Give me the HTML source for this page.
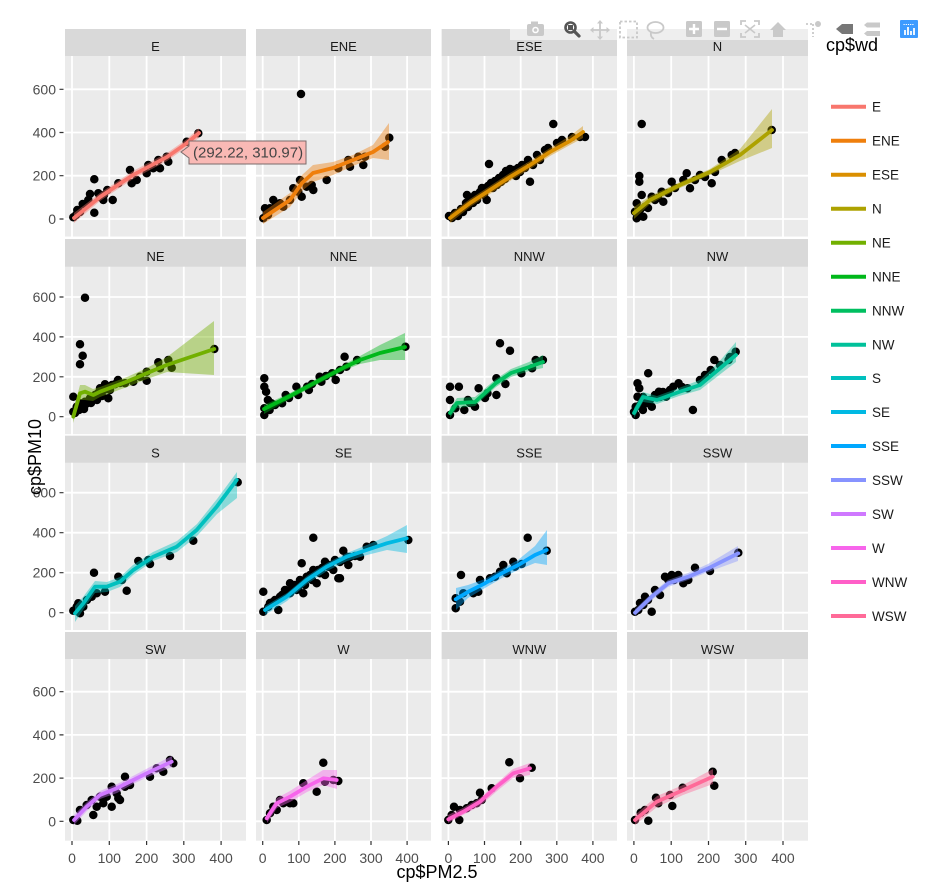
<!DOCTYPE html>
<html><head><meta charset="utf-8"><style>
html,body{margin:0;padding:0;background:#fff;}
svg{display:block;font-family:"Liberation Sans",Arial,sans-serif;}
.pt{stroke:#000;stroke-width:8.5;stroke-linecap:round;fill:none}
.ln{fill:none;stroke-width:3.8;stroke-linejoin:round;stroke-linecap:round}
.rb{opacity:0.42;stroke:none}
.st{font-size:13px;fill:#1A1A1A;text-anchor:middle}
.yt{font-size:14px;fill:#4D4D4D;text-anchor:end}
.xt{font-size:14px;fill:#4D4D4D;text-anchor:middle}
.lg{font-size:13.5px;fill:#1a1a1a}
.ic{fill:#c9c9c9}
</style></head><body>
<svg width="939" height="887" viewBox="0 0 939 887" xmlns="http://www.w3.org/2000/svg">
<rect width="939" height="887" fill="#fff"/>
<!-- panel backgrounds -->
<g fill="#EBEBEB">
<rect x="65" y="29" width="181" height="207.7"/><rect x="256" y="29" width="175" height="207.7"/><rect x="441.7" y="29" width="175.3" height="207.7"/><rect x="627" y="29" width="181" height="207.7"/>
<rect x="65" y="239" width="181" height="195.3"/><rect x="256" y="239" width="175" height="195.3"/><rect x="441.7" y="239" width="175.3" height="195.3"/><rect x="627" y="239" width="181" height="195.3"/>
<rect x="65" y="435.7" width="181" height="194.3"/><rect x="256" y="435.7" width="175" height="194.3"/><rect x="441.7" y="435.7" width="175.3" height="194.3"/><rect x="627" y="435.7" width="181" height="194.3"/>
<rect x="65" y="632" width="181" height="208.7"/><rect x="256" y="632" width="175" height="208.7"/><rect x="441.7" y="632" width="175.3" height="208.7"/><rect x="627" y="632" width="181" height="208.7"/>
</g>
<!-- grid -->
<g stroke="#fff" stroke-width="1.8">
<path d="M72 29V841M109.3 29V841M146.6 29V841M183.8 29V841M221.1 29V841M262.7 29V841M298.8 29V841M334.9 29V841M371 29V841M407.1 29V841M448.4 29V841M484.5 29V841M520.7 29V841M556.8 29V841M592.9 29V841M633.9 29V841M671.2 29V841M708.5 29V841M745.7 29V841M783 29V841"/>
<path d="M65 89.3H808M65 132.5H808M65 175.7H808M65 219H808M65 297H808M65 336.9H808M65 376.8H808M65 416.7H808M65 492.7H808M65 532.7H808M65 572.7H808M65 612.7H808M65 691.7H808M65 734.9H808M65 778.1H808M65 821.3H808"/>
</g>
<rect x="0" y="236.7" width="939" height="2.3" fill="#fff"/><rect x="0" y="434.3" width="939" height="1.4" fill="#fff"/><rect x="0" y="630" width="939" height="2" fill="#fff"/>
<!-- strips -->
<g fill="#D9D9D9">
<rect x="65" y="29" width="181" height="27"/><rect x="256" y="29" width="175" height="27"/><rect x="441.7" y="29" width="175.3" height="27"/><rect x="627" y="29" width="181" height="27"/>
<rect x="65" y="239" width="181" height="27.7"/><rect x="256" y="239" width="175" height="27.7"/><rect x="441.7" y="239" width="175.3" height="27.7"/><rect x="627" y="239" width="181" height="27.7"/>
<rect x="65" y="435.7" width="181" height="27"/><rect x="256" y="435.7" width="175" height="27"/><rect x="441.7" y="435.7" width="175.3" height="27"/><rect x="627" y="435.7" width="181" height="27"/>
<rect x="65" y="632" width="181" height="27"/><rect x="256" y="632" width="175" height="27"/><rect x="441.7" y="632" width="175.3" height="27"/><rect x="627" y="632" width="181" height="27"/>
</g>
<g class="st">
<text x="155.5" y="51">E</text><text x="343.5" y="51">ENE</text><text x="529.3" y="51">ESE</text><text x="717.5" y="51">N</text>
<text x="155.5" y="261">NE</text><text x="343.5" y="261">NNE</text><text x="529.3" y="261">NNW</text><text x="717.5" y="261">NW</text>
<text x="155.5" y="457.5">S</text><text x="343.5" y="457.5">SE</text><text x="529.3" y="457.5">SSE</text><text x="717.5" y="457.5">SSW</text>
<text x="155.5" y="654">SW</text><text x="343.5" y="654">W</text><text x="529.3" y="654">WNW</text><text x="717.5" y="654">WSW</text>
</g>
<!-- ticks -->
<g stroke="#333" stroke-width="1.2">
<path d="M59.5 89.3H63.5M59.5 132.5H63.5M59.5 175.7H63.5M59.5 219H63.5M59.5 297H63.5M59.5 336.9H63.5M59.5 376.8H63.5M59.5 416.7H63.5M59.5 492.7H63.5M59.5 532.7H63.5M59.5 572.7H63.5M59.5 612.7H63.5M59.5 691.7H63.5M59.5 734.9H63.5M59.5 778.1H63.5M59.5 821.3H63.5"/>
<path d="M72 841V845M109.3 841V845M146.6 841V845M183.8 841V845M221.1 841V845M262.7 841V845M298.8 841V845M334.9 841V845M371 841V845M407.1 841V845M448.4 841V845M484.5 841V845M520.7 841V845M556.8 841V845M592.9 841V845M633.9 841V845M671.2 841V845M708.5 841V845M745.7 841V845M783 841V845"/>
</g>
<g class="yt">
<text x="56" y="94.3">600</text><text x="56" y="137.5">400</text><text x="56" y="180.7">200</text><text x="56" y="224">0</text>
<text x="56" y="302">600</text><text x="56" y="341.9">400</text><text x="56" y="381.8">200</text><text x="56" y="421.7">0</text>
<text x="56" y="497.7">600</text><text x="56" y="537.7">400</text><text x="56" y="577.7">200</text><text x="56" y="617.7">0</text>
<text x="56" y="696.7">600</text><text x="56" y="739.9">400</text><text x="56" y="783.1">200</text><text x="56" y="826.3">0</text>
</g>
<g class="xt">
<text x="72" y="863">0</text><text x="109.3" y="863">100</text><text x="146.6" y="863">200</text><text x="183.8" y="863">300</text><text x="221.1" y="863">400</text>
<text x="262.7" y="863">0</text><text x="298.8" y="863">100</text><text x="334.9" y="863">200</text><text x="371" y="863">300</text><text x="407.1" y="863">400</text>
<text x="448.4" y="863">0</text><text x="484.5" y="863">100</text><text x="520.7" y="863">200</text><text x="556.8" y="863">300</text><text x="592.9" y="863">400</text>
<text x="633.9" y="863">0</text><text x="671.2" y="863">100</text><text x="708.5" y="863">200</text><text x="745.7" y="863">300</text><text x="783" y="863">400</text>
</g>
<text x="437" y="878" font-size="18" text-anchor="middle" fill="#000">cp$PM2.5</text>
<text transform="translate(41,457) rotate(-90)" font-size="18" text-anchor="middle" fill="#000">cp$PM10</text>

<!-- points -->
<path class="pt" d="M73.3 217.3h0M77.3 210h0M82.7 204h0M88.3 200h0M94.3 179.3h0M90 194h0M94.3 212.7h0M98.3 193.3h0M103.3 200h0M107.3 190h0M112.7 200h0M118.3 183.3h0M130 170h0M131.7 183.3h0M136.7 180h0M146.7 173.3h0M148.3 165h0M153.3 168.3h0M160 168.3h0M158.3 160h0M166.7 156.7h0M168.3 161.7h0M186.7 141.7h0M198.3 133.3h0M76 215h0M80 212h0M86 205h0M100 197h0M104 195h0"/>
<path class="pt" d="M263.3 218.3h0M265 208.3h0M266.7 213.3h0M273.3 200h0M270 208.3h0M280 203.3h0M283.3 206.7h0M290 200h0M293.3 188.3h0M300 180h0M301.7 196.7h0M298.3 191.7h0M306.7 186.7h0M313.3 190h0M311.7 185h0M326.7 180h0M338.3 168.3h0M348.3 160h0M350 166.7h0M358.3 156.7h0M363.3 165h0M365 156.7h0M385 146.7h0M389.3 137.7h0M301 94h0M268 215h0M276 205h0"/>
<path class="pt" d="M449 216h0M452 218h0M455 213h0M458 216h0M461 209h0M463 212h0M466 203h0M468 207h0M470 199h0M473 203h0M475 195h0M477 200h0M480 192h0M482 188h0M484 195h0M486 190h0M489 164h0M488 186h0M491 183h0M493 188h0M495 181h0M497 185h0M499 178h0M501 182h0M503 175h0M505 179h0M506 171h0M508 176h0M510 169h0M512 174h0M514 170h0M516 176h0M518 168h0M520 172h0M522 165h0M525 168h0M530 181.7h0M528 160h0M533 165h0M537 155h0M540 160h0M545 150h0M548 148h0M553.3 124h0M557 143h0M562 140h0M572 137h0M580 137h0M585 137h0M486.7 200h0M467 195h0"/>
<path class="pt" d="M641.7 124h0M639.3 176h0M639.3 181.7h0M641.7 195h0M636.7 203.3h0M635 211.7h0M636.7 218.3h0M643.3 216.7h0M645 206.7h0M651.7 196.7h0M661.7 191.7h0M663.3 201.7h0M671.7 181.7h0M683.3 180h0M686.7 173.3h0M690 188.3h0M700 175h0M711.7 183.3h0M721.7 160h0M731.7 155h0M771.7 130h0M638 214h0M640 210h0M648 208h0M655 200h0M658 198h0M668 193h0M675 188h0M695 180h0M705 177h0M715 172h0M735 153h0"/>
<path class="pt" d="M85 297.7h0M80 344.3h0M82.7 355.7h0M80 364.3h0M73.3 396.7h0M73.3 411.7h0M76.7 406.7h0M80 403.3h0M85 401.7h0M90 398.3h0M95 395h0M100 388.3h0M105 384.3h0M108.3 398.3h0M115 384.3h0M125 383.3h0M133.3 381.7h0M140 376.7h0M146.7 380.7h0M146.7 371.7h0M158.3 362.3h0M160 368.3h0M168.3 360h0M171.7 367.7h0M214.3 349h0M75 413h0M77 408h0M79 410h0M82 405h0M84 409h0M86 404h0M88 401h0M91 403h0M93 399h0M97 400h0M98 393h0M102 396h0M104 390h0M110 390h0M112 385h0M118 380h0M120 383h0"/>
<path class="pt" d="M264.3 378.3h0M264.3 386.7h0M266.1 391.7h0M267.9 400h0M264.3 408.3h0M264.3 415h0M269.6 410h0M271.4 403.3h0M282.1 403.3h0M285.7 395h0M296.4 386.7h0M298.2 395h0M307.1 386.7h0M308.9 390h0M319.6 376.7h0M321.4 381.7h0M332.1 373.3h0M335.7 380h0M344.6 356.7h0M346.4 366.7h0M357.1 360h0M405.4 346.7h0M275 405h0M289 398h0M312 384h0M326 376h0M340 370h0"/>
<path class="pt" d="M450 386.7h0M458.9 386.7h0M450 400h0M450 415h0M455.4 408.3h0M464.3 410h0M467.9 400h0M475 406.7h0M478.6 388.3h0M487.5 393.3h0M496.4 378.3h0M496.4 395h0M505.4 384h0M500 343.3h0M510 350.7h0M521.4 373.3h0M535.7 360h0M542.9 360h0M532.1 368.3h0M470 403h0M485 398h0"/>
<path class="pt" d="M637.5 383.3h0M639.3 388.3h0M637.5 396.7h0M635.7 406.7h0M635.7 415h0M642.9 410h0M646.4 403.3h0M651.8 406.7h0M648.2 373.3h0M658.9 391.7h0M666.1 396.7h0M673.2 386.7h0M678.6 383.3h0M687.5 388.3h0M692.9 410h0M710.7 370h0M714.3 360h0M728.6 360h0M735.7 351.7h0M634 412h0M640 405h0M643 397h0M650 400h0M655 395h0M660 397h0M663 392h0M670 390h0M682 387h0M700 380h0M705 375h0M720 365h0M730 357h0"/>
<path class="pt" d="M73.3 610.7h0M76.7 606.7h0M80 613.3h0M83.3 606.7h0M78.3 603.3h0M91.7 596.7h0M94 572.7h0M96.7 593.3h0M105 591.7h0M118.3 576.7h0M126.7 590.7h0M138.3 561h0M148.3 560h0M150 564h0M170 556h0M193.3 540.7h0M237.7 482.3h0M87 600h0M122 580h0"/>
<path class="pt" d="M263.3 591.7h0M263.3 611.7h0M268.3 606.7h0M273.3 601.7h0M278.3 610h0M280 596.7h0M286.7 593.3h0M290 583.3h0M296.7 590h0M290 593.3h0M300 580h0M303.3 593.3h0M301.7 563.3h0M306.7 576.7h0M313.3 537.7h0M313.3 570h0M316.7 583.3h0M320 573.3h0M325 561.7h0M328.3 566.7h0M333.3 570h0M338.3 578.3h0M340 578.3h0M343.3 550.7h0M348.3 565h0M346.7 556.7h0M360 556.7h0M366.7 546.7h0M373.3 545h0M408.3 540h0M270 603h0M275 600h0M282 595h0M285 590h0M292 588h0M295 585h0M298 588h0M302 582h0M305 585h0M308 578h0M310 575h0M312 580h0M318 570h0M322 568h0M325 575h0M330 565h0M335 560h0M340 562h0M345 560h0M350 557h0M355 556h0"/>
<path class="pt" d="M455.7 608.3h0M455.7 598.3h0M460 601.7h0M461 575h0M463.3 593.3h0M473.3 593.3h0M478.3 591.7h0M480 580h0M490 578.3h0M495 576.7h0M500 571.7h0M503.3 565h0M506.7 573.3h0M513.3 561.7h0M515 566.7h0M521.7 564h0M527.7 537.7h0M546.7 550.7h0"/>
<path class="pt" d="M635 611.7h0M638.3 610h0M643.3 605h0M645 596.7h0M651.7 611.7h0M655 590h0M660 595h0M665 576.7h0M668.3 580h0M671.7 575h0M678.3 575h0M683.3 583.3h0M688.3 580h0M695 567.7h0M710 571h0M738.3 552.7h0M640 603h0M648 600h0M674 580h0"/>
<path class="pt" d="M73.3 820h0M77.3 820.7h0M80 810h0M86.7 805h0M91.7 800h0M93.3 815h0M96.7 806.7h0M100 796.7h0M106.7 796.7h0M103.3 803.3h0M111.7 786.7h0M111.7 806.7h0M118.3 798.3h0M120 800h0M116.7 793.3h0M125 786.7h0M125 776.7h0M130 785h0M150 776.7h0M156.7 768.3h0M163.3 771.7h0M170 760h0M173.3 763.3h0"/>
<path class="pt" d="M266.7 820h0M270 813.3h0M273.3 806.7h0M276.7 810h0M280 800h0M283.3 803.3h0M290 803.3h0M293.3 803.3h0M303.3 783.3h0M316.7 791.7h0M323.3 762.7h0M325 781.7h0M333.3 780h0M338.3 781h0"/>
<path class="pt" d="M448.3 820h0M451.7 815h0M454 806.7h0M459.3 820h0M460 810h0M466.7 808.3h0M471.7 805h0M476.7 803.3h0M480 792.7h0M481.7 800h0M491.7 788.3h0M509.3 762.3h0M520 778.3h0M531.7 767.7h0"/>
<path class="pt" d="M635 820h0M640.7 812.7h0M645 810h0M648.3 820.7h0M656 797.7h0M658.3 803.3h0M670 795h0M672.3 806h0M682.7 787.7h0M712.7 771.7h0M714.3 785.7h0"/>

<!-- ribbons -->
<polygon class="rb" fill="#F8766D" points="74,213 100,193 133,171 167,153 187,139 199,128 199,138 187,147 167,161 133,179 100,201 74,223"/>
<polygon class="rb" fill="#EF7F0C" points="263,212 290,193 302,175 313,165 333,162 353,155 373,145 389,123 389,160 373,158 353,166 333,175 313,182 302,191 290,207 263,224"/>
<polygon class="rb" fill="#DA8F00" points="450,214 470,199 490,186 510,173 530,161 550,148 570,136 583,126 583,138 570,145 550,156 530,169 510,181 490,194 470,207 450,223"/>
<polygon class="rb" fill="#ADA200" points="634,207 650,196 680,182 710,169 740,149 772,109 772,148 740,161 710,175 680,188 650,204 634,219"/>
<polygon class="rb" fill="#72B000" points="73,411 80,385 85,385 93,389 100,387 127,377 147,368 167,357 214,321 214,375 167,372 147,379 127,387 100,397 93,401 85,400 80,400 73,423"/>
<polygon class="rb" fill="#00B81A" points="264,405 290,393 320,377 345,364 360,356 380,345 405,333 405,360 380,360 360,364 345,370 320,383 290,399 264,414"/>
<polygon class="rb" fill="#00BF60" points="450,408 457,398 475,397 496,379 511,369 529,362 543,355 543,368 529,371 511,377 496,387 475,406 457,408 450,418"/>
<polygon class="rb" fill="#00C19A" points="634,408 643,392 657,396 679,388 700,380 718,363 736,342 736,362 718,376 700,390 679,396 657,404 643,402 634,418"/>
<polygon class="rb" fill="#00C0BE" points="75,606 83,597 95,581 107,582 120,577 133,565 153,552 177,541 197,524 217,499 237,472 237,498 217,514 197,536 177,552 153,561 133,575 120,587 107,592 95,593 83,610 75,622"/>
<polygon class="rb" fill="#00B9E3" points="265,606 287,593 307,576 327,563 347,553 367,545 387,536 407,525 407,553 387,550 367,555 347,561 327,571 307,584 287,601 265,615"/>
<polygon class="rb" fill="#00A8FF" points="456,588 468,585 485,579 502,569 518,560 535,546 547,530 547,565 535,563 518,570 502,578 485,588 468,598 456,610"/>
<polygon class="rb" fill="#8793FF" points="635,609 652,593 668,580 688,573 708,564 738,546 738,561 708,572 688,580 668,587 652,600 635,616"/>
<polygon class="rb" fill="#CF78FF" points="74,815 87,802 100,791 117,784 133,776 150,767 172,756 172,767 150,776 133,784 117,793 100,799 87,811 74,825"/>
<polygon class="rb" fill="#F765EB" points="267,814 277,798 290,791 307,780 323,770 337,770 337,789 323,785 307,792 290,802 277,808 267,823"/>
<polygon class="rb" fill="#FF5FC8" points="448,815 463,808 480,798 497,783 513,769 530,763 530,775 513,778 497,791 480,806 463,815 448,823"/>
<polygon class="rb" fill="#FF6A98" points="635,815 657,796 683,785 713,769 713,784 683,795 657,807 635,825"/>

<!-- smooth lines -->
<polyline class="ln" stroke="#F8766D" points="74,218 100,197 133,175 167,157 187,143 199,133"/>
<polyline class="ln" stroke="#EF7F0C" points="263,218 290,200 302,183 313,173 333,168 353,160 373,152 388,142"/>
<polyline class="ln" stroke="#DA8F00" points="450,218 470,203 490,190 510,177 530,165 550,152 570,141 583,132"/>
<polyline class="ln" stroke="#ADA200" points="634,213 650,200 680,185 710,172 740,155 772,130"/>
<polyline class="ln" stroke="#72B000" points="73.3,416.7 80,393.3 85,391.7 93.3,395 100,391.7 126.7,381.7 146.7,373.3 166.7,365 214.3,349"/>
<polyline class="ln" stroke="#00B81A" points="264,409 290,396 320,380 345,367 360,360 380,353 405,347"/>
<polyline class="ln" stroke="#00BF60" points="450,413 457,403 475,402 496,383 511,373 529,367 543,362"/>
<polyline class="ln" stroke="#00C19A" points="634,413 643,397 657,400 679,392 700,385 718,370 736,355"/>
<polyline class="ln" stroke="#00C0BE" points="75,613.3 83.3,603.3 95,586.7 106.7,586.7 120,581.7 133.3,570 153.3,556.7 176.7,546.7 196.7,530 216.7,506.7 236.7,480"/>
<polyline class="ln" stroke="#00B9E3" points="265,610 286.7,596.7 306.7,580 326.7,566.7 346.7,556.7 366.7,550 386.7,543.3 406.7,538.3"/>
<polyline class="ln" stroke="#00A8FF" points="455.7,599.3 468.3,591.7 485,583.3 501.7,573.3 518.3,565 535,555 546.7,550"/>
<polyline class="ln" stroke="#8793FF" points="635,612.7 651.7,596.7 668.3,583.3 688.3,576.7 708.3,568.3 738.3,553.3"/>
<polyline class="ln" stroke="#CF78FF" points="74,820 86.7,806.7 100,795 116.7,788.3 133.3,780 150,771.7 171.7,761.7"/>
<polyline class="ln" stroke="#F765EB" points="266.7,818.3 276.7,803.3 290,796.7 306.7,786.7 323.3,778.3 336.7,780"/>
<polyline class="ln" stroke="#FF5FC8" points="448.3,819.3 463.3,811.7 480,801.7 496.7,786.7 513.3,773.3 530,768.3"/>
<polyline class="ln" stroke="#FF6A98" points="635,820 656.7,801.7 683.3,790 712.7,776.7"/>

<!-- tooltip -->
<path d="M181 152L189 146L189 141H306V164H189V158Z" fill="#F9B9B5" stroke="#7a6a6a" stroke-width="1"/>
<text x="193" y="157.5" font-size="15" fill="#444">(292.22, 310.97)</text>

<!-- legend -->
<text x="826" y="51" font-size="18" fill="#000">cp$wd</text>
<g stroke-width="4">
<path d="M831 106.7H866" stroke="#F8766D"/><path d="M831 140.7H866" stroke="#EF7F0C"/><path d="M831 174.7H866" stroke="#DA8F00"/><path d="M831 208.7H866" stroke="#ADA200"/>
<path d="M831 242.7H866" stroke="#72B000"/><path d="M831 276.7H866" stroke="#00B81A"/><path d="M831 310.7H866" stroke="#00BF60"/><path d="M831 344.7H866" stroke="#00C19A"/>
<path d="M831 378H866" stroke="#00C0BE"/><path d="M831 412H866" stroke="#00B9E3"/><path d="M831 446H866" stroke="#00A8FF"/><path d="M831 480H866" stroke="#8793FF"/>
<path d="M831 514H866" stroke="#CF78FF"/><path d="M831 548H866" stroke="#F765EB"/><path d="M831 582H866" stroke="#FF5FC8"/><path d="M831 616H866" stroke="#FF6A98"/>
</g>
<g class="lg">
<text x="872" y="111.5">E</text><text x="872" y="145.5">ENE</text><text x="872" y="179.5">ESE</text><text x="872" y="213.5">N</text>
<text x="872" y="247.5">NE</text><text x="872" y="281.5">NNE</text><text x="872" y="315.5">NNW</text><text x="872" y="349.5">NW</text>
<text x="872" y="383">S</text><text x="872" y="417">SE</text><text x="872" y="451">SSE</text><text x="872" y="485">SSW</text>
<text x="872" y="519">SW</text><text x="872" y="553">W</text><text x="872" y="587">WNW</text><text x="872" y="621">WSW</text>
</g>

<!-- modebar -->
<rect x="510" y="29" width="298" height="11" fill="#fff" opacity="0.55"/>
<g>
<rect class="ic" x="527" y="24" width="17" height="12" rx="2"/><rect class="ic" x="531" y="21.5" width="7" height="3"/><circle cx="535.5" cy="30" r="3.3" fill="#fff"/><circle cx="535.5" cy="30" r="1.8" class="ic"/>
<circle cx="570.5" cy="27.5" r="5" fill="none" stroke="#555" stroke-width="2.6"/><path d="M574 31L579 36" stroke="#555" stroke-width="3.2" stroke-linecap="round"/><rect x="568" y="25" width="5" height="5" fill="#555"/>
<path d="M600 21V39M591 30H609" stroke="#c9c9c9" stroke-width="1.8"/><path d="M600 20L597 23.5H603ZM600 40L597 36.5H603ZM590 30L593.5 27V33ZM610 30L606.5 27V33Z" class="ic"/>
<rect x="620" y="21.5" width="17" height="16" fill="none" stroke="#c9c9c9" stroke-width="1.8" stroke-dasharray="2.5 2"/>
<ellipse cx="655.5" cy="27.5" rx="8" ry="5.5" fill="none" stroke="#c9c9c9" stroke-width="1.8"/><path d="M651 32Q650 37 654 39" fill="none" stroke="#c9c9c9" stroke-width="1.8"/>
<rect class="ic" x="686" y="21" width="16" height="16" rx="1.5"/><path d="M694 24V34M689 29H699" stroke="#fff" stroke-width="2.4"/>
<rect class="ic" x="714" y="21" width="16" height="16" rx="1.5"/><path d="M717 29H727" stroke="#fff" stroke-width="2.4"/>
<path d="M741 25V21H746M754 21H759V25M759 33V37H754M746 37H741V33" fill="none" stroke="#c9c9c9" stroke-width="1.8"/><path d="M745 25L755 33M755 25L745 33" stroke="#c9c9c9" stroke-width="1.6"/>
<path d="M770 30L778 22L786 30H783V37H773V30Z" class="ic"/>
<path d="M806 24H813M813 24V37" stroke="#c9c9c9" stroke-width="1.8" stroke-dasharray="2 2"/><circle class="ic" cx="818" cy="24" r="3"/>
<path d="M836 29L842 24H853V34H842Z" fill="#777"/>
<path d="M867 22.5H880V27.5H867L864 25ZM867 31H880V36H867L864 33.5Z" class="ic"/>
<rect x="900" y="20" width="18" height="18" fill="#3D9BFF" rx="1"/><path d="M903.5 24.5H914.5" stroke="#fff" stroke-width="1" stroke-dasharray="1.2 1"/><path d="M905 35V30M908 35V27M911 35V31M914 35V28" stroke="#fff" stroke-width="1.8"/>
</g>
</svg>
</body></html>
